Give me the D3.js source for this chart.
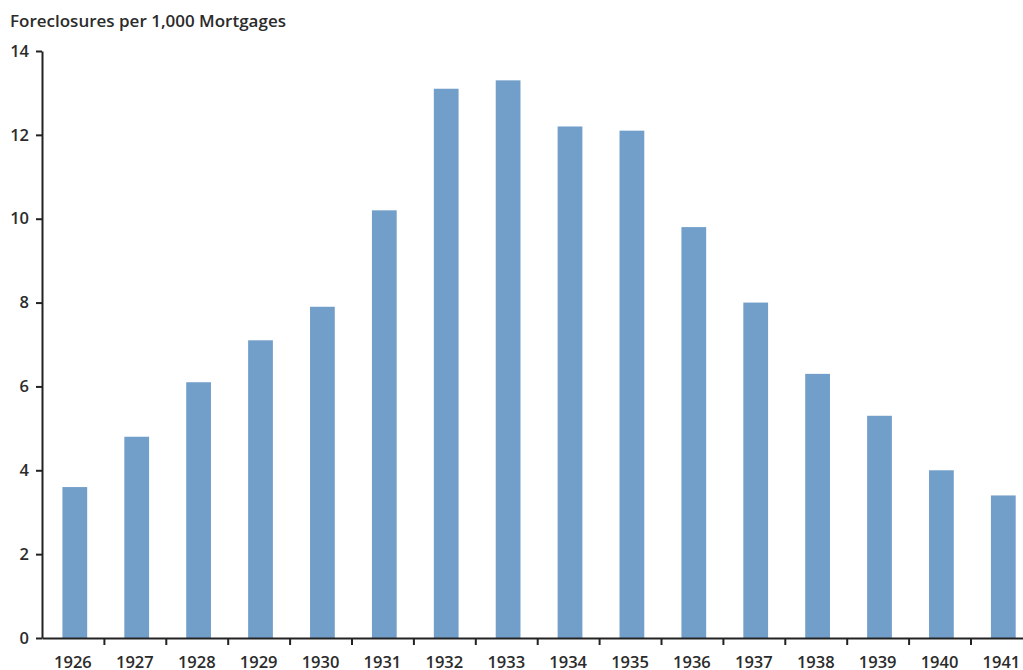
<!DOCTYPE html>
<meta charset="utf-8">
<script src="https://d3js.org/d3.v7.min.js"></script>
<style>
  body { margin: 0; background: #fff; }
  text { font-family: "Open Sans", sans-serif; fill: #2b2b2b; }
</style>
<div id="chart"></div>
<script>

// data
var years = ["1926", "1927", "1928", "1929", "1930", "1931", "1932", "1933",
             "1934", "1935", "1936", "1937", "1938", "1939", "1940", "1941"];
var foreclosures = [3.6, 4.8, 6.1, 7.1, 7.9, 10.2, 13.1, 13.3,
                    12.2, 12.1, 9.8, 8.0, 6.3, 5.3, 4.0, 3.4];
var yTicks = [0, 2, 4, 6, 8, 10, 12, 14];

var data = years.map(function(d, i) { return {year: d, value: foreclosures[i]}; });

var W = 1023, H = 670;
var x0 = 42, step = 61.9, yTop = 51, yBottom = 638;

var svg = d3.select("#chart").append("svg")
    .attr("width", W)
    .attr("height", H);

var x = d3.scaleBand()
    .domain(years)
    .range([x0, x0 + years.length * step])
    .paddingInner(0.6)
    .paddingOuter(0.3)
    .align(0.55);

var y = d3.scaleLinear()
    .domain([0, 14])
    .range([yBottom, yTop]);

// bars
svg.selectAll("rect.bar")
  .data(data)
  .enter()
  .append("rect")
    .attr("class", "bar")
    .attr("x", function(d) { return x(d.year); })
    .attr("y", function(d) { return y(d.value); })
    .attr("width", x.bandwidth())
    .attr("height", function(d) { return y(0) - y(d.value); })
    .attr("fill", "#729fca");

// y axis
var yAxis = svg.append("g")
    .attr("transform", "translate(" + x0 + ",0)")
    .call(d3.axisLeft(y).tickValues(yTicks).tickSize(6).tickPadding(7).tickSizeOuter(0));

// x axis: tick marks on band edges, labels at band centres
var edges = d3.scaleLinear().domain([0, years.length]).range([x0, x0 + years.length * step]);
var xAxis = svg.append("g")
    .attr("transform", "translate(0," + yBottom + ")")
    .call(d3.axisBottom(edges).tickValues(d3.range(1, years.length + 1))
      .tickFormat("").tickSize(7).tickSizeOuter(0));

xAxis.selectAll(".yearlabel")
  .data(years)
  .enter()
  .append("text")
    .attr("class", "yearlabel")
    .attr("x", function(d) { return x.step() * years.indexOf(d) + x0 + step / 2; })
    .attr("y", 30)
    .attr("text-anchor", "middle")
    .text(function(d) { return d; });

svg.selectAll(".domain, .tick line")
    .attr("stroke", "#222")
    .attr("stroke-width", 2);

svg.selectAll("g text")
    .style("font-size", "16.5px")
    .style("font-weight", "600")
    .attr("fill", "#2b2b2b");

// title
svg.append("text")
    .attr("x", 10)
    .attr("y", 27)
    .style("font-size", "17px")
    .style("font-weight", "600")
    .text("Foreclosures per 1,000 Mortgages");

</script>
